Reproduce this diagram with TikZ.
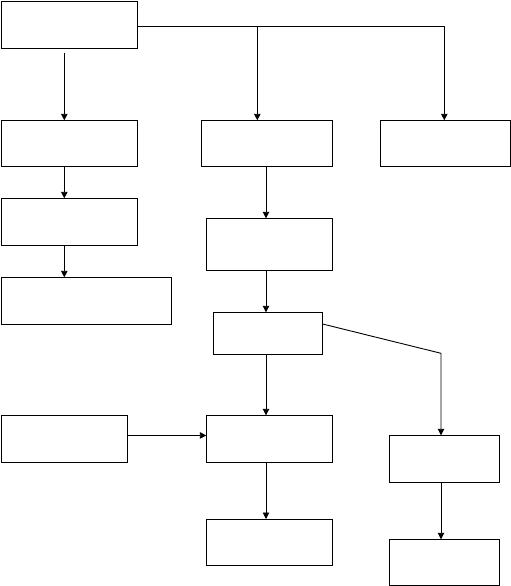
\documentclass[tikz,border=0pt]{standalone}
\usepackage{xcolor}
\usepackage{tikz}
\usetikzlibrary{arrows.meta}
\definecolor{figline}{RGB}{0,0,0}
\tikzset{
  bx/.style  ={draw=figline, line width=0.9pt, anchor=north west, inner sep=0pt},
  ln/.style  ={draw=figline, line width=0.9pt},
  ptr/.style ={draw=figline, line width=0.9pt, -{Triangle[length=6.5pt,width=6.5pt]}},
}
\begin{document}
\begin{tikzpicture}[x=1pt,y=-1pt]
  \useasboundingbox (0,0) rectangle (511,586);
  \node[bx, minimum width=136pt, minimum height=47pt] (top) at (1.3,1.3) {};
  \node[bx, minimum width=136pt, minimum height=46pt] (lefta) at (1.3,120.3) {};
  \node[bx, minimum width=136pt, minimum height=47pt] (leftb) at (1.3,198.3) {};
  \node[bx, minimum width=169.4pt, minimum height=47pt] (leftc) at (1.3,277.3) {};
  \node[bx, minimum width=130.4pt, minimum height=46pt] (mida) at (201.3,120.3) {};
  \node[bx, minimum width=130pt, minimum height=46pt] (righta) at (380.3,120.3) {};
  \node[bx, minimum width=125.4pt, minimum height=52pt] (midb) at (206.3,218.3) {};
  \node[bx, minimum width=108.4pt, minimum height=42pt] (midc) at (213.3,312.3) {};
  \node[bx, minimum width=125.4pt, minimum height=47pt] (side) at (1.3,415.3) {};
  \node[bx, minimum width=125.4pt, minimum height=47pt] (midd) at (206.3,415.3) {};
  \node[bx, minimum width=125.4pt, minimum height=46.3pt] (mide) at (206.3,519) {};
  \node[bx, minimum width=109.4pt, minimum height=47pt] (rightb) at (389.3,435.3) {};
  \node[bx, minimum width=109.4pt, minimum height=45.4pt] (rightc) at (389.3,539.3) {};
  \coordinate (colL) at (64.3,53);
  \coordinate (colM) at (266,0);
  \coordinate (colR) at (441,0);
  \coordinate (fork) at (257.3,26.3);
  \coordinate (bend) at (441,353.3);
  \draw[ptr] (colL) -- (colL |- lefta.north);
  \draw[ln] (top.east |- fork) -- (fork);
  \draw[ptr] (fork) -| (righta.north -| 444.3,0);
  \draw[ptr] (fork) -- (fork |- mida.north);
  \draw[ptr] (lefta.south -| colL) -- (leftb.north -| colL);
  \draw[ptr] (leftb.south -| colL) -- (leftc.north -| colL);
  \draw[ptr] (mida.south -| colM) -- (midb.north -| colM);
  \draw[ptr] (midb.south -| colM) -- (midc.north -| colM);
  \draw[ptr] (midc.south -| colM) -- (midd.north -| colM);
  \draw[ptr] (midd.south -| colM) -- (mide.north -| colM);
  \draw[ptr] ([yshift=-11.7pt]midc.north east) -- (bend) -- (bend |- rightb.north);
  \draw[ptr] ([yshift=3.8pt]side.east) -- ([yshift=3.8pt]midd.west);
  \draw[ptr] (rightb.south -| colR) -- (rightc.north -| colR);
\end{tikzpicture}
\end{document}
